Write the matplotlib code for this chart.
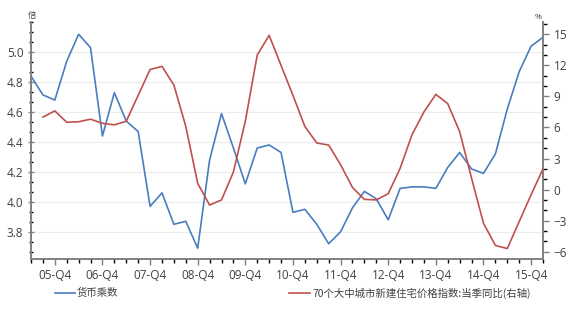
import matplotlib
matplotlib.use("Agg")
import matplotlib.pyplot as plt
from matplotlib.ticker import MultipleLocator, FixedLocator

plt.rcParams['font.family'] = ['Open Sans', 'Noto Sans CJK SC', 'DejaVu Sans']

# Quarterly series, 2005-Q2 .. 2016-Q1
quarters = [f"{y:02d}-Q{q}" for y in range(5, 17) for q in range(1, 5)][1:45]
money_multiplier = [4.84, 4.715, 4.68, 4.94, 5.12, 5.03, 4.44, 4.73, 4.54, 4.47,
                    3.97, 4.06, 3.85, 3.87, 3.69, 4.28, 4.59, 4.36, 4.12, 4.36,
                    4.38, 4.33, 3.93, 3.95, 3.85, 3.72, 3.80, 3.96, 4.07, 4.02,
                    3.88, 4.09, 4.10, 4.10, 4.09, 4.23, 4.33, 4.22, 4.19, 4.32,
                    4.62, 4.87, 5.04, 5.10]
# house price index, yoy % (starts one quarter later)
house_price_yoy = [None, 7.0, 7.6, 6.5, 6.55, 6.8, 6.4, 6.25, 6.6, 9.1,
                   11.6, 11.9, 10.1, 6.1, 0.6, -1.5, -1.0, 1.7, 6.6, 13.0,
                   14.9, 12.0, 9.1, 6.1, 4.5, 4.3, 2.4, 0.2, -0.95, -1.0,
                   -0.4, 2.05, 5.3, 7.5, 9.2, 8.3, 5.6, 1.1, -3.25, -5.4,
                   -5.7, -3.1, -0.5, 2.0]
xtick_labels = ["05-Q4", "06-Q4", "07-Q4", "08-Q4", "09-Q4", "10-Q4",
                "11-Q4", "12-Q4", "13-Q4", "14-Q4", "15-Q4"]

label_left = "货币乘数"
label_right = "70个大中城市新建住宅价格指数:当季同比(右轴)"

blue = "#4a7dbf"
red = "#c0504d"
axis_gray = "#808080"
text_color = "#404040"

fig = plt.figure(figsize=(5.84, 3.25), dpi=100)
ax = fig.add_axes([31/584, 1-259/325, (543-31)/584, (259-22)/325])
ax2 = ax.twinx()

x = list(range(len(quarters)))
xr = [i for i, v in zip(x, house_price_yoy) if v is not None]
yr = [v for v in house_price_yoy if v is not None]

ax.plot(x, money_multiplier, color=blue, lw=1.2, zorder=3)
ax2.plot(xr, yr, color=red, lw=1.2, zorder=3)

ax.set_xlim(0, len(quarters) - 1)
ax.set_ylim(3.618, 5.202)
ax2.set_ylim(-6.71, 16.19)

ax.yaxis.set_major_locator(FixedLocator([3.8, 4.0, 4.2, 4.4, 4.6, 4.8, 5.0]))
ax.yaxis.set_minor_locator(MultipleLocator(0.2/3))
ax.set_yticklabels(["3.8", "4.0", "4.2", "4.4", "4.6", "4.8", "5.0"])
ax2.yaxis.set_major_locator(MultipleLocator(3))
ax2.yaxis.set_minor_locator(MultipleLocator(1))

major_x = [quarters.index(l) for l in xtick_labels]
ax.xaxis.set_major_locator(FixedLocator(major_x))
ax.set_xticklabels(xtick_labels)
ax.xaxis.set_minor_locator(MultipleLocator(1))

ax.grid(axis='y', which='major', color="#ececec", lw=0.8, zorder=0)
ax.set_axisbelow(True)

for a in (ax, ax2):
    a.spines['top'].set_visible(False)
    for s in ('left', 'right', 'bottom'):
        a.spines[s].set_color(axis_gray)
        a.spines[s].set_linewidth(1.2)
    a.tick_params(colors=axis_gray, labelcolor=text_color, labelsize=8.5)
    a.tick_params(which='major', length=4, width=1)
    a.tick_params(which='minor', length=3, width=1)

ax.tick_params(axis='x', pad=3)
ax.tick_params(axis='y', which='both', direction='inout')
ax2.tick_params(axis='y', which='both', direction='out')

ax.text(-0.3, 5.21, "倍", fontsize=6, color=text_color, ha='left', va='bottom',
        family=['Noto Sans CJK SC'])
ax2.text(len(quarters) - 1.4, 16.3, "%", fontsize=6, color=text_color,
         ha='center', va='bottom')

# legend drawn below the axes
fig.lines.append(plt.Line2D([55/584, 75/584], [1-293/325]*2, color=blue, lw=1.2,
                            transform=fig.transFigure))
fig.text(77/584, 1-293/325, label_left, fontsize=7.5, color=text_color,
         va='center', ha='left', family=['Noto Sans CJK SC'])
fig.lines.append(plt.Line2D([289/584, 310/584], [1-293/325]*2, color=red, lw=1.2,
                            transform=fig.transFigure))
fig.text(312/584, 1-293/325, label_right, fontsize=7.5, color=text_color,
         va='center', ha='left', family=['Noto Sans CJK SC'])

fig.savefig("out.png", dpi=100, facecolor="white")
